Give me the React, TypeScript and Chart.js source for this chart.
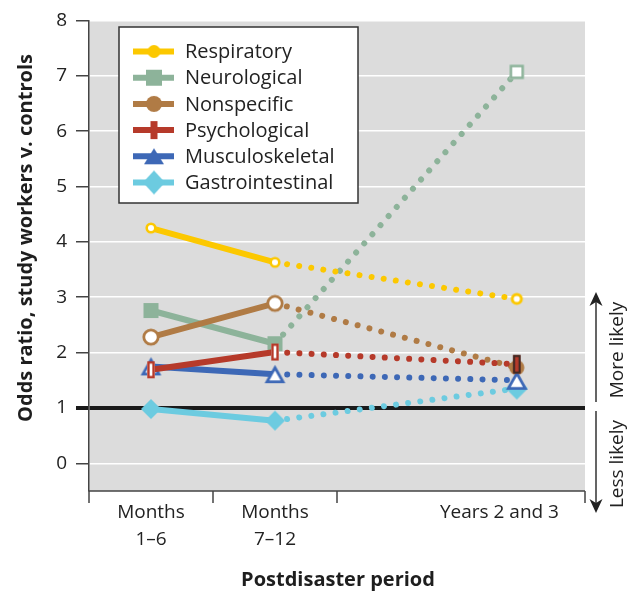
import React, { useEffect, useRef } from "react";
import { Chart, registerables } from "chart.js";

Chart.register(...registerables);

// ---- data ----
const periodLabels: (string | string[])[] = [["Months", "1–6"], ["Months", "7–12"], "Years 2 and 3"];
const periodX = [0.5, 1.5, 3.45];
const periodLabelX = [0.5, 1.5, 3.31];
const periodBounds = [0, 1, 2, 4];
const yTicks = [0, 1, 2, 3, 4, 5, 6, 7, 8];

const seriesNames = ["Respiratory", "Neurological", "Nonspecific", "Psychological", "Musculoskeletal", "Gastrointestinal"];
const respiratory = [4.25, 3.63, 2.97];
const neurological = [2.76, 2.16, 7.07];
const nonspecific = [2.28, 2.89, 1.73];
const psychological = [1.69, 2.01, 1.79];
const musculoskeletal = [1.75, 1.61, 1.5];
const gastrointestinal = [0.98, 0.77, 1.35];

const annotationUp = "More likely";
const annotationDown = "Less likely";
const yTitle = "Odds ratio, study workers v. controls";
const xTitle = "Postdisaster period";

// ---- styles ----
const YEL = "#fcc800";
const GRN = "#8db39a";
const BRN = "#b07b45";
const RED = "#b63a2a";
const BLU = "#3d68b6";
const CYN = "#6ccbe0";
const FONT = "'Open Sans', 'Noto Sans', sans-serif";

function mk(w: number, h: number, draw: (c: CanvasRenderingContext2D) => void) {
  const cv = document.createElement("canvas");
  cv.width = w;
  cv.height = h;
  const c = cv.getContext("2d")!;
  draw(c);
  return cv;
}
function circle(r: number, fill: string, stroke: string, lw: number) {
  const s = Math.ceil(2 * r + lw + 2);
  return mk(s, s, (c) => {
    c.beginPath();
    c.arc(s / 2, s / 2, r, 0, Math.PI * 2);
    c.fillStyle = fill;
    c.fill();
    if (lw) {
      c.lineWidth = lw;
      c.strokeStyle = stroke;
      c.stroke();
    }
  });
}
function rectM(w: number, h: number, fill: string, stroke: string, lw: number) {
  const W = Math.ceil(w + 2);
  const H = Math.ceil(h + 2);
  return mk(W, H, (c) => {
    const x0 = (W - w) / 2 + lw / 2;
    const y0 = (H - h) / 2 + lw / 2;
    c.fillStyle = fill;
    c.fillRect((W - w) / 2, (H - h) / 2, w, h);
    if (lw) {
      c.lineWidth = lw;
      c.strokeStyle = stroke;
      c.strokeRect(x0, y0, w - lw, h - lw);
    }
  });
}
function tri(w: number, h: number, fill: string, stroke: string, lw: number) {
  const W = Math.ceil(w + 2);
  const H = Math.ceil(h + 2);
  return mk(W, H, (c) => {
    const m = lw ? lw * 0.9 : 0;
    c.beginPath();
    c.moveTo(W / 2, (H - h) / 2 + m);
    c.lineTo((W + w) / 2 - m, (H + h) / 2 - lw / 2);
    c.lineTo((W - w) / 2 + m, (H + h) / 2 - lw / 2);
    c.closePath();
    c.fillStyle = fill;
    c.fill();
    if (lw) {
      c.lineWidth = lw;
      c.lineJoin = "miter";
      c.strokeStyle = stroke;
      c.stroke();
    }
  });
}
function diamond(w: number, h: number, fill: string) {
  const W = Math.ceil(w + 2);
  const H = Math.ceil(h + 2);
  return mk(W, H, (c) => {
    c.beginPath();
    c.moveTo(W / 2, (H - h) / 2);
    c.lineTo((W + w) / 2, H / 2);
    c.lineTo(W / 2, (H + h) / 2);
    c.lineTo((W - w) / 2, H / 2);
    c.closePath();
    c.fillStyle = fill;
    c.fill();
  });
}

export default function App() {
  const ref = useRef<HTMLCanvasElement | null>(null);

  useEffect(() => {
    const canvas = ref.current;
    if (!canvas) return;

    const pointStyles = [
      [circle(4.3, "#fff", YEL, 2.6), circle(4.3, "#fff", YEL, 2.6), circle(4.6, "#fff", YEL, 3)],
      [rectM(15, 15, GRN, GRN, 0), rectM(15, 15, GRN, GRN, 0), rectM(14.5, 14.5, "#fff", GRN, 2.6)],
      [circle(7.2, "#fff", BRN, 2.8), circle(7.2, "#fff", BRN, 2.8), circle(7.6, BRN, BRN, 0)],
      [rectM(7.5, 17, "#fff", RED, 2.4), rectM(7.5, 17, "#fff", RED, 2.4), rectM(7.5, 18.5, RED, "#3a2a24", 2)],
      [tri(21, 18, "#fff", BLU, 2.8), tri(21, 18, "#fff", BLU, 2.8), tri(22, 19, "#fff", BLU, 2.8)],
      [diamond(20, 20, CYN), diamond(20, 20, CYN), diamond(22, 22, CYN)],
    ];
    const legendMarkers = [
      circle(6.5, YEL, YEL, 0),
      rectM(16, 16, GRN, GRN, 0),
      circle(8, BRN, BRN, 0),
      rectM(7, 18, RED, RED, 0),
      tri(20, 16, BLU, BLU, 0),
      diamond(22, 24, CYN),
    ];
    const colors = [YEL, GRN, BRN, RED, BLU, CYN];
    const values = [respiratory, neurological, nonspecific, psychological, musculoskeletal, gastrointestinal];
    const drawOrder = [0, 5, 3, 1, 2, 4];

    const datasets = seriesNames.map((name, i) => ({
      label: name,
      data: values[i].map((v, j) => ({ x: periodX[j], y: v })),
      borderColor: colors[i],
      backgroundColor: colors[i],
      borderWidth: 6,
      borderCapStyle: "round" as const,
      pointStyle: pointStyles[i],
      pointRadius: 6,
      pointHoverRadius: 6,
      tension: 0,
      order: drawOrder[i],
      segment: {
        borderDash: (ctx: any) => (ctx.p0DataIndex >= 1 ? [0.01, 12.2] : []),
      },
    }));

    const deco = {
      id: "deco",
      beforeDraw(chart: any) {
        const { ctx, chartArea: a } = chart;
        ctx.save();
        ctx.fillStyle = "#dcdcdc";
        ctx.fillRect(a.left, a.top, a.right - a.left, a.bottom - a.top);
        ctx.restore();
      },
      afterDraw(chart: any) {
        const { ctx, chartArea: a, scales } = chart;
        const xs = scales.x;
        ctx.save();
        // bottom axis line and boundary ticks
        ctx.strokeStyle = "#444";
        ctx.lineWidth = 1.5;
        ctx.beginPath();
        ctx.moveTo(a.left, a.bottom);
        ctx.lineTo(a.right, a.bottom);
        periodBounds.forEach((b) => {
          const px = xs.getPixelForValue(b);
          ctx.moveTo(px, a.bottom);
          ctx.lineTo(px, a.bottom + 12);
        });
        ctx.stroke();

        // legend
        const lx = 119, ly = 27, lw = 239, lh = 176;
        ctx.fillStyle = "#fff";
        ctx.fillRect(lx, ly, lw, lh);
        ctx.strokeStyle = "#333";
        ctx.lineWidth = 1.5;
        ctx.strokeRect(lx, ly, lw, lh);
        ctx.font = `20px ${FONT}`;
        ctx.textBaseline = "middle";
        ctx.textAlign = "left";
        chart.data.datasets.forEach((ds: any, i: number) => {
          const y = 51.5 + i * 26.2;
          ctx.strokeStyle = ds.borderColor;
          ctx.lineWidth = 6;
          ctx.lineCap = "butt";
          ctx.beginPath();
          ctx.moveTo(133, y);
          ctx.lineTo(174, y);
          ctx.stroke();
          const m = legendMarkers[i];
          ctx.drawImage(m, 154 - m.width / 2, y - m.height / 2);
          ctx.fillStyle = "#222";
          ctx.fillText(ds.label, 185, y + 1);
        });

        // titles
        ctx.fillStyle = "#1e1e1e";
        ctx.font = `bold 20px ${FONT}`;
        ctx.textAlign = "center";
        ctx.textBaseline = "middle";
        ctx.fillText(xTitle, 338, 580);
        ctx.save();
        ctx.translate(26, 238);
        ctx.rotate(-Math.PI / 2);
        ctx.fillText(yTitle, 0, 0);
        ctx.restore();

        // right annotation arrows
        const ax = 596;
        ctx.strokeStyle = "#333";
        ctx.fillStyle = "#222";
        ctx.lineWidth = 1.5;
        ctx.beginPath();
        ctx.moveTo(ax, 300);
        ctx.lineTo(ax, 402);
        ctx.moveTo(ax, 411);
        ctx.lineTo(ax, 505);
        ctx.stroke();
        ctx.beginPath();
        ctx.moveTo(ax, 292);
        ctx.lineTo(ax + 6.5, 306);
        ctx.lineTo(ax, 302);
        ctx.lineTo(ax - 6.5, 306);
        ctx.closePath();
        ctx.fill();
        ctx.beginPath();
        ctx.moveTo(ax, 513);
        ctx.lineTo(ax + 6.5, 499);
        ctx.lineTo(ax, 503);
        ctx.lineTo(ax - 6.5, 499);
        ctx.closePath();
        ctx.fill();
        ctx.font = `19px ${FONT}`;
        ctx.fillStyle = "#222";
        ctx.save();
        ctx.translate(618, 350);
        ctx.rotate(-Math.PI / 2);
        ctx.fillText(annotationUp, 0, 0);
        ctx.restore();
        ctx.save();
        ctx.translate(618, 464);
        ctx.rotate(-Math.PI / 2);
        ctx.fillText(annotationDown, 0, 0);
        ctx.restore();
        ctx.restore();
      },
    };

    const chart = new Chart(canvas, {
      type: "line",
      data: { datasets },
      options: {
        responsive: false,
        animation: false,
        events: [],
        layout: { padding: { top: 16, right: 52, left: 0, bottom: 0 } },
        plugins: { legend: { display: false }, tooltip: { enabled: false } },
        scales: {
          x: {
            type: "linear",
            min: 0,
            max: 4,
            grid: { display: false, drawTicks: false },
            border: { display: false },
            afterBuildTicks: (s: any) => {
              s.ticks = periodLabelX.map((v) => ({ value: v }));
            },
            afterFit: (s: any) => {
              s.height = 102;
            },
            ticks: {
              autoSkip: false,
              maxRotation: 0,
              padding: 8,
              color: "#222",
              font: { family: FONT, size: 19, lineHeight: 1.42 },
              callback: (_v: any, i: number) => periodLabels[i],
            },
          },
          y: {
            type: "linear",
            min: -0.5,
            max: 8,
            afterBuildTicks: (s: any) => {
              s.ticks = yTicks.map((v) => ({ value: v }));
            },
            afterFit: (s: any) => {
              s.width = 89;
            },
            border: { display: true, color: "#444", width: 1.5 },
            grid: {
              color: (c: any) => (c.tick && c.tick.value === 1 ? "#1a1a1a" : "#ffffff"),
              lineWidth: (c: any) => (c.tick && c.tick.value === 1 ? 4 : 1.5),
              tickColor: (c: any) => (c.tick && c.tick.value === 1 ? "#1a1a1a" : "#444"),
              tickWidth: (c: any) => (c.tick && c.tick.value === 1 ? 4 : 1.5),
              tickLength: 13,
            },
            ticks: {
              padding: 9,
              color: "#222",
              font: { family: FONT, size: 19 },
            },
          },
        },
      },
      plugins: [deco],
    } as any);

    return () => chart.destroy();
  }, []);

  return (
    <div style={{ position: "absolute", left: 0, top: 0, width: 637, height: 593, background: "#fff" }}>
      <canvas ref={ref} width={637} height={593} style={{ width: 637, height: 593, display: "block" }} />
    </div>
  );
}
